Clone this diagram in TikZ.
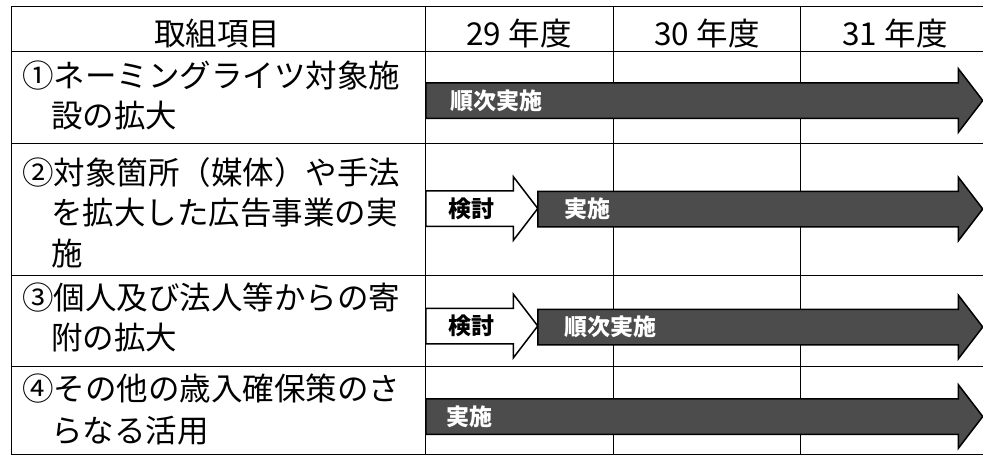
\documentclass[tikz,border=0pt]{standalone}
\usepackage{fontspec}
\newfontfamily\jp{Noto Sans CJK JP}
\usetikzlibrary{shapes.arrows}

\begin{document}
\begin{tikzpicture}[
    x=1pt,y=-1pt,
    grid/.style={line width=1pt},
    head/.style={anchor=base,inner sep=0,font=\jp\fontsize{31.5}{40}\selectfont},
    item/.style={anchor=base west,inner sep=0,font=\jp\fontsize{31.5}{40}\selectfont},
    plan/.style={single arrow,draw=black,line width=1.5pt,fill=white,inner xsep=0,inner ysep=17pt,
        single arrow head extend=14pt,single arrow tip angle=105,anchor=tail},
    done/.style={plan,fill=black!70},
    tag/.style={anchor=west,inner sep=0,font=\jp\bfseries\fontsize{23}{23}\selectfont},
    tagw/.style={tag,text=white}
]
    \useasboundingbox (0,0) rectangle (983,456);

    % Table
    \foreach \y in {6,51,143,275,366,454}
        \draw[grid] (11,\y) -- (983,\y);
    \foreach \x in {11,425,613,800}
        \draw[grid] (\x,6) -- (\x,454);

    % Header
    \node[head] (hItem) at (217,45) {取組項目};
    \node[head] (h29) at (519,45) {29 年度};
    \node[head] (h30) at (707,45) {30 年度};
    \node[head] (h31) at (895,45) {31 年度};

    % Items
    \node[item] (item1a) at (22,87) {①ネーミングライツ対象施};
    \node[item] (item1b) at (51,127) {設の拡大};
    \node[item] (item2a) at (22,184) {②対象箇所（媒体）や手法};
    \node[item] (item2b) at (51,224) {を拡大した広告事業の実};
    \node[item] (item2c) at (51,265) {施};
    \node[item] (item3a) at (22,309) {③個人及び法人等からの寄};
    \node[item] (item3b) at (51,349) {附の拡大};
    \node[item] (item4a) at (22,400) {④その他の歳入確保策のさ};
    \node[item] (item4b) at (51,442) {らなる活用};

    % Schedule arrows
    \node[done,minimum height=557pt] (run1) at (425,100.5) {};
    \node[plan,minimum height=112pt] (study2) at (425,208.5) {};
    \node[done,minimum height=445pt] (run2) at (537,209) {};
    \node[plan,minimum height=112pt] (study3) at (425,326) {};
    \node[done,minimum height=445pt] (run3) at (537,327) {};
    \node[done,minimum height=557pt] (run4) at (425,416.5) {};

    % Arrow labels
    \node[tagw] (l1) at (450,100.5) {順次実施};
    \node[tag] (l2a) at (448,208.5) {検討};
    \node[tagw] (l2b) at (564,209) {実施};
    \node[tag] (l3a) at (448,326) {検討};
    \node[tagw] (l3b) at (564,327) {順次実施};
    \node[tagw] (l4) at (446,416.5) {実施};
\end{tikzpicture}
\end{document}
